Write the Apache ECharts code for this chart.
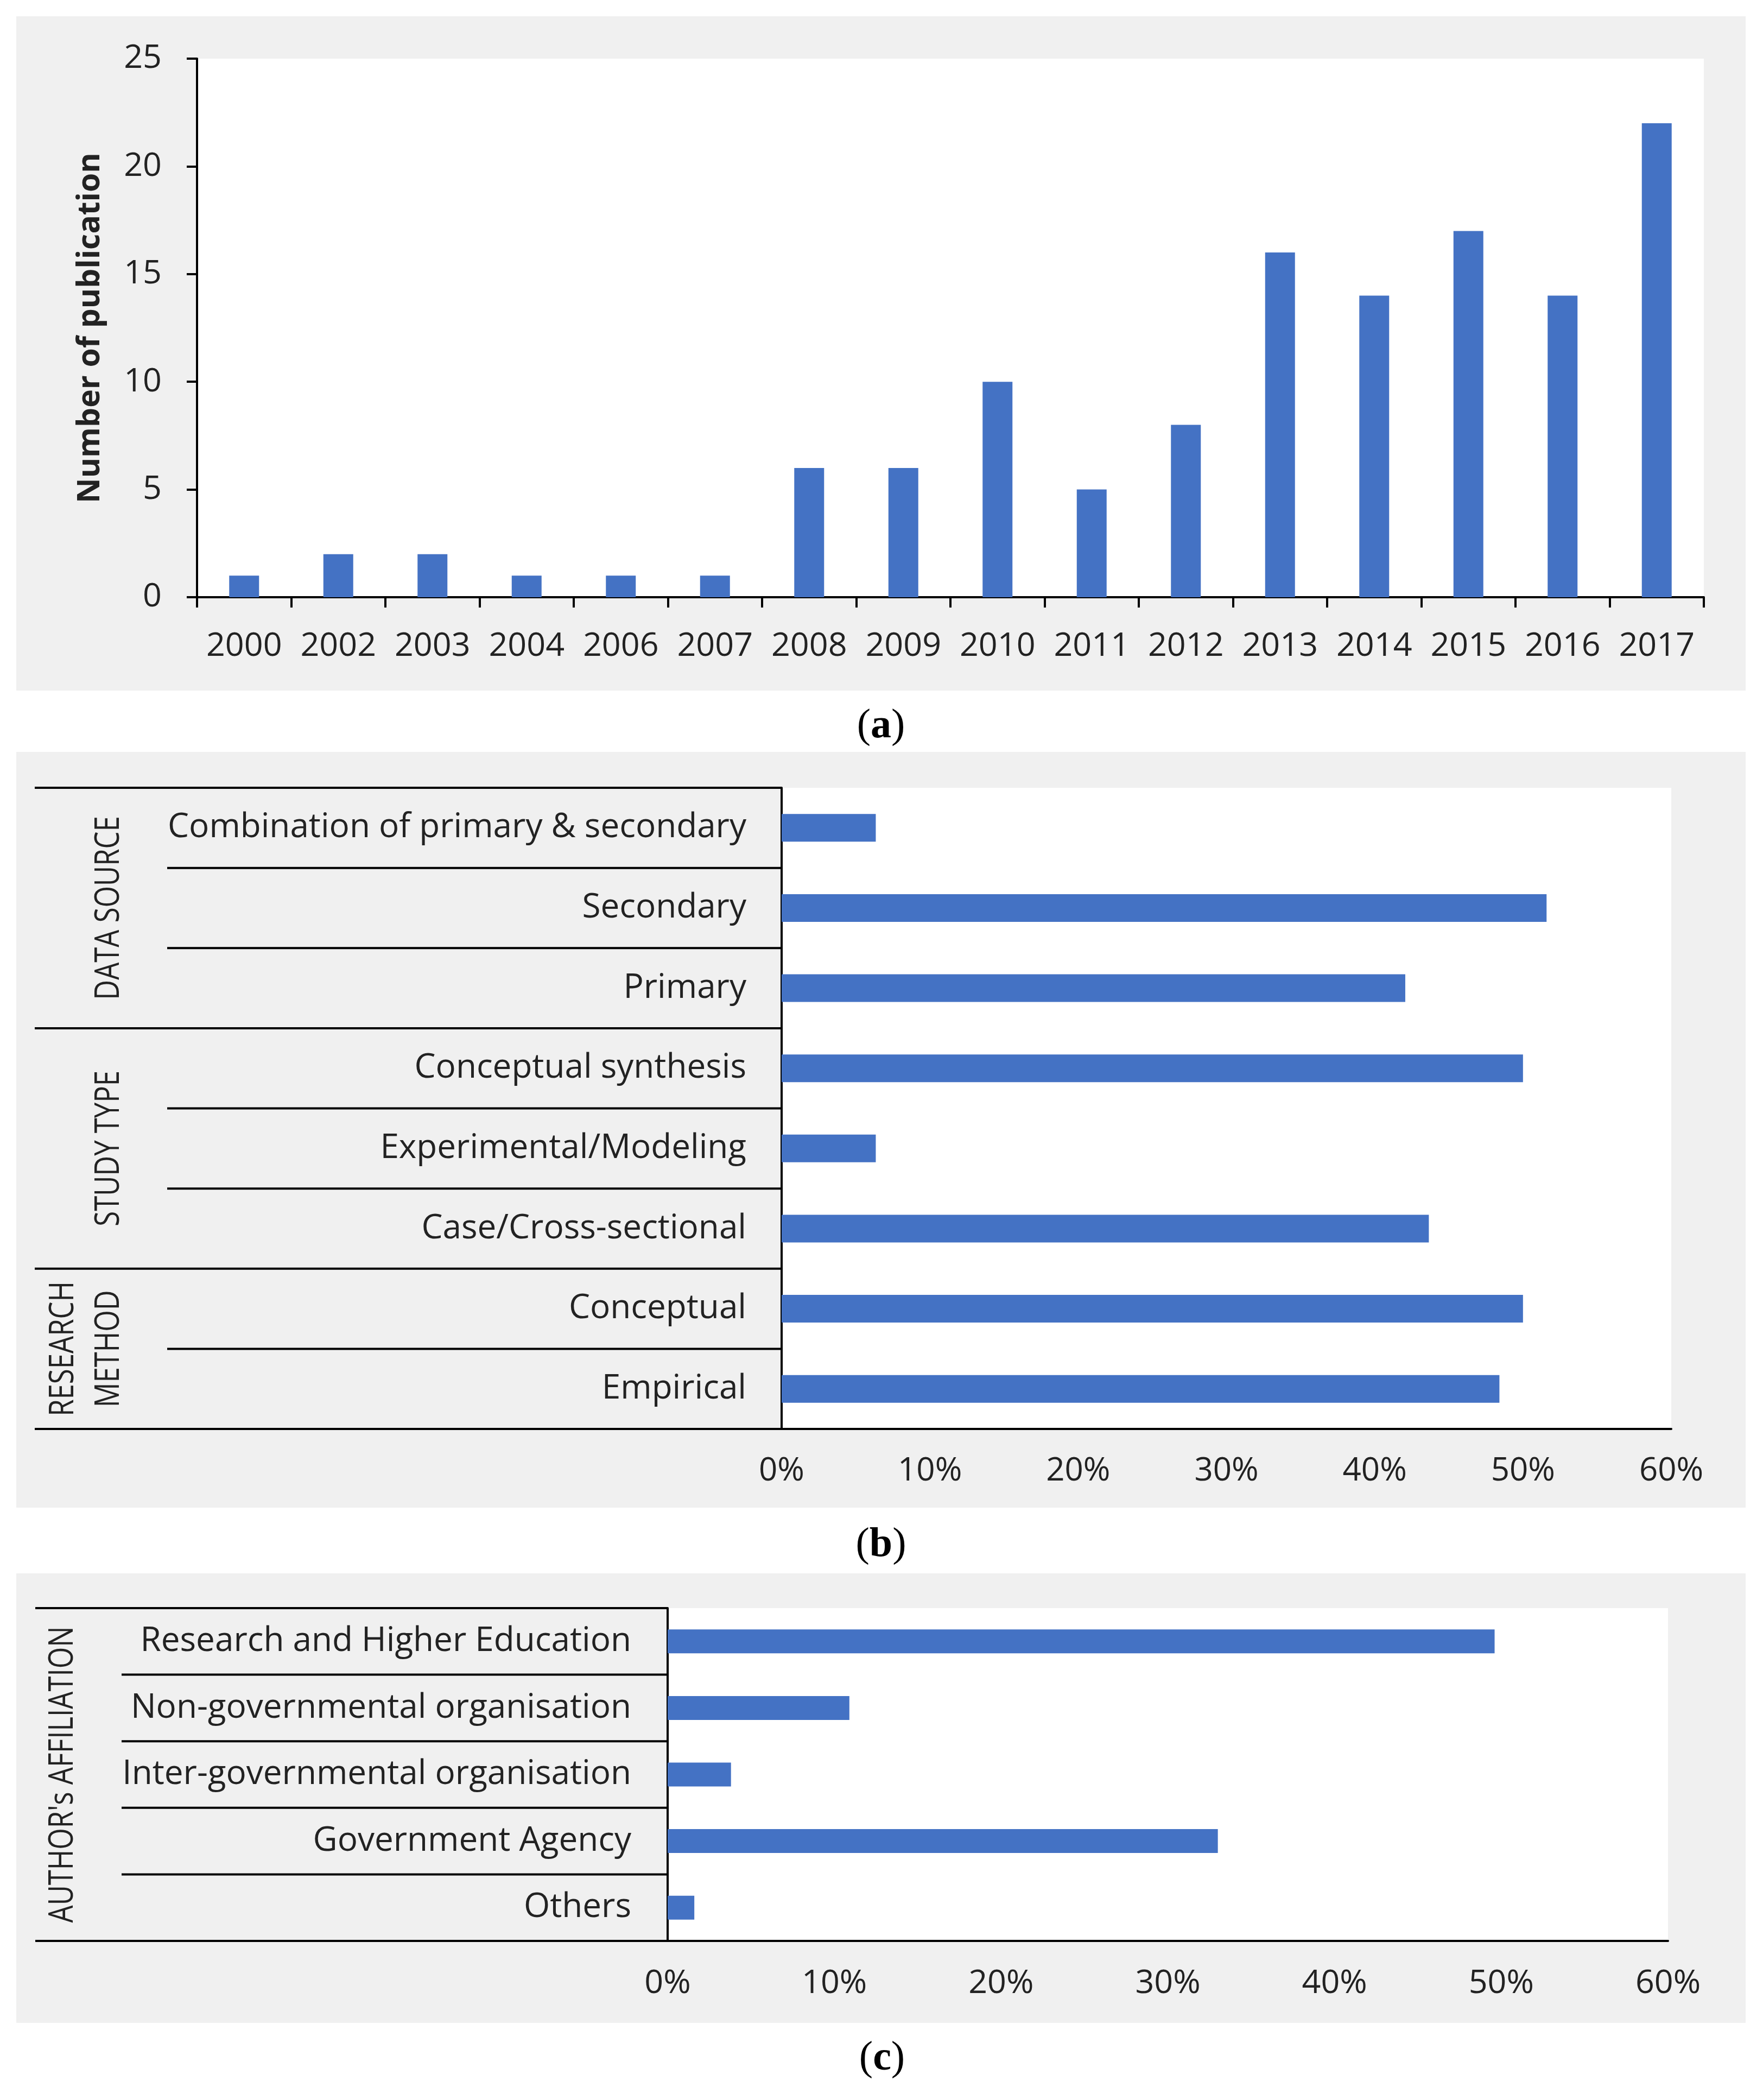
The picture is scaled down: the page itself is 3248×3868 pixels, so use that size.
<!DOCTYPE html>
<html><head><meta charset="utf-8">
<script src="https://cdn.jsdelivr.net/npm/echarts@6/dist/echarts.min.js"></script>
<style>html,body{margin:0;padding:0;background:#fff}#c{width:3248px;height:3868px}</style>
</head><body><div id="c"></div>
<script>
// ---- data ----
const years = ['2000','2002','2003','2004','2006','2007','2008','2009','2010','2011','2012','2013','2014','2015','2016','2017'];
const pubCounts = [1,2,2,1,1,1,6,6,10,5,8,16,14,17,14,22];

const studyCategories = ['Combination of primary & secondary','Secondary','Primary','Conceptual synthesis','Experimental/Modeling','Case/Cross-sectional','Conceptual','Empirical'];
const studyShares = [6.35,51.59,42.06,50.0,6.35,43.65,50.0,48.41];
const studyGroupNames = ['DATA SOURCE','STUDY TYPE','RESEARCH\nMETHOD'];
const studyGroupSizes = [3,3,2];

const affCategories = ['Research and Higher Education','Non-governmental organisation','Inter-governmental organisation','Government Agency','Others'];
const affShares = [49.6,10.9,3.8,33.0,1.6];
const affGroupNames = ["AUTHOR's AFFILIATION"];
const affGroupSizes = [5];

// ---- layout ----
const BLUE = '#4472C4', INK = '#222', FONT = 'Open Sans';
const gA = {left:363, top:108, width:2776, height:992};
const gB = {left:1440, top:1451, width:1639, height:1181};
const gC = {left:1230, top:2962, width:1843, height:613};

function gridOpt(g){return {left:g.left, top:g.top, width:g.width, height:g.height, show:true, backgroundColor:'#fff', borderWidth:0, containLabel:false, outerBoundsMode:'none'};}

const graphics = [];
// panel backgrounds
[[30,1272],[1385,2777],[2898,3726]].forEach(([y0,y1])=>{
  graphics.push({type:'rect', z:-10, silent:true, shape:{x:30,y:y0,width:3186,height:y1-y0}, style:{fill:'#f0f0f0'}});
});
function line(x1,y1,x2,y2){graphics.push({type:'line', z:10, silent:true, shape:{x1,y1,x2,y2}, style:{stroke:'#000', lineWidth:4}});}
function table(g, n, sizes, names, outerX, innerX, lastLineX, lh){
  const h = g.height/n;
  line(outerX, g.top, g.left, g.top);
  line(outerX, g.top+g.height, g.left, g.top+g.height);
  const bounds = new Set(); let acc=0;
  sizes.forEach(s=>{acc+=s; bounds.add(acc);});
  for(let k=1;k<n;k++){ line(bounds.has(k)?outerX:innerX, g.top+k*h, g.left, g.top+k*h); }
  let start=0;
  sizes.forEach((s,i)=>{
    const cy = g.top + (start + s/2)*h; start+=s;
    const nLines = names[i].split('\n').length;
    const cx = lastLineX - (nLines-1)*lh/2;
    graphics.push({type:'text', z:10, silent:true, x:cx, y:cy, rotation:Math.PI/2, scaleX:0.82,
      style:{text:names[i], fill:INK, font:'62px "Open Sans"', textAlign:'center', textVerticalAlign:'middle', lineHeight:lh}});
  });
}
table(gB, studyCategories.length, studyGroupSizes, studyGroupNames, 64, 308, 201, 84);
table(gC, affCategories.length, affGroupSizes, affGroupNames, 65, 224, 116, 84);

// captions
[['a',1623,1338],['b',1623,2846],['c',1625,3792]].forEach(([t,x,y])=>{
  graphics.push({type:'text', z:10, silent:true, x, y, style:{text:'{p|(}{b|'+t+'}{p|)}', textAlign:'center', textVerticalAlign:'middle',
    rich:{p:{fontFamily:'Liberation Serif', fontSize:76, fill:'#000'}, b:{fontFamily:'Liberation Serif', fontSize:76, fontWeight:'bold', fill:'#000'}}}});
});

const axLine = {show:true, lineStyle:{color:'#000', width:4}};
const lbl = (size, margin, extra)=>Object.assign({color:INK, fontFamily:FONT, fontSize:size, margin}, extra||{});

const option = {
  animation:false,
  backgroundColor:'#fff',
  grid:[gridOpt(gA), gridOpt(gB), gridOpt(gC)],
  xAxis:[
    {gridIndex:0, type:'category', data:years, boundaryGap:true, axisLine:axLine,
     axisTick:{show:true, interval:0, length:19, lineStyle:{color:'#000', width:4}},
     axisLabel:lbl(61, 60, {interval:0}), splitLine:{show:false}},
    {gridIndex:1, type:'value', min:0, max:60, interval:10, axisLine:axLine, axisTick:{show:false},
     axisLabel:lbl(60, 48, {formatter:'{value}%'}), splitLine:{show:false}},
    {gridIndex:2, type:'value', min:0, max:60, interval:10, axisLine:axLine, axisTick:{show:false},
     axisLabel:lbl(61, 48, {formatter:'{value}%'}), splitLine:{show:false}}
  ],
  yAxis:[
    {gridIndex:0, type:'value', min:0, max:25, interval:5, axisLine:axLine,
     axisTick:{show:true, length:19, lineStyle:{color:'#000', width:4}},
     axisLabel:lbl(61, 65), splitLine:{show:false},
     name:'Number of publication', nameLocation:'middle', nameGap:168, nameRotate:90,
     nameTextStyle:{color:INK, fontFamily:FONT, fontSize:57, fontWeight:'bold'}},
    {gridIndex:1, type:'category', data:studyCategories, inverse:true, axisLine:axLine, axisTick:{show:false},
     axisLabel:lbl(62, 65, {interval:0}), splitLine:{show:false}},
    {gridIndex:2, type:'category', data:affCategories, inverse:true, axisLine:axLine, axisTick:{show:false},
     axisLabel:lbl(62, 67, {interval:0}), splitLine:{show:false}}
  ],
  series:[
    {type:'bar', xAxisIndex:0, yAxisIndex:0, data:pubCounts, barWidth:55, itemStyle:{color:BLUE}},
    {type:'bar', xAxisIndex:1, yAxisIndex:1, data:studyShares, barWidth:51, itemStyle:{color:BLUE}},
    {type:'bar', xAxisIndex:2, yAxisIndex:2, data:affShares, barWidth:44, itemStyle:{color:BLUE}}
  ],
  graphic:{elements:graphics}
};
const chart = echarts.init(document.getElementById('c'), null, {renderer:'canvas'});
chart.setOption(option);
</script></body></html>
